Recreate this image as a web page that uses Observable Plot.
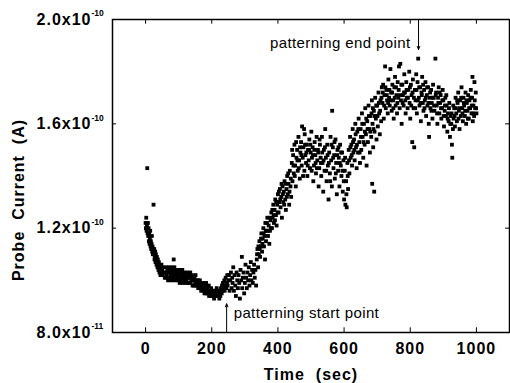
<!DOCTYPE html>
<html><head><meta charset="utf-8">
<script src="https://cdn.jsdelivr.net/npm/d3@7"></script>
<script src="https://cdn.jsdelivr.net/npm/@observablehq/plot@0.6"></script>
<style>
body{margin:0;background:#fff}
svg g[font-weight="bold"] text{letter-spacing:1px}
svg g[font-size="15"] text{letter-spacing:0.4px}
</style>
</head><body><div id="chart"></div>
<script>
// Probe current readings, [time (sec), current in units of 1e-10 A]
const decay = [[0,1.22],[1,1.20],[2,1.24],[3,1.19],[4,1.21],[5,1.43],[6,1.18],[7,1.22],[8,1.17],[9,1.20],[10,1.15],[11,1.18],[12,1.14],[13,1.16],[14,1.19],[15,1.13],[16,1.15],[17,1.12],[18,1.14],[19,1.17],[20,1.11],[21,1.13],[22,1.10],[23,1.12],[24,1.29],[25,1.10],[26,1.12],[27,1.08],[28,1.09],[29,1.11],[30,1.07],[31,1.10],[32,1.08],[33,1.06],[34,1.09],[35,1.07],[36,1.05],[37,1.08],[38,1.06],[39,1.04],[40,1.07],[41,1.05],[42,1.03],[43,1.06],[44,1.04],[45,1.02],[46,1.05],[47,1.03],[48,1.06],[50,1.04],[52,1.02],[54,1.05],[56,1.03],[58,1.01]];
const plateau = [[60,1.03],[62,1.01],[63,1.05],[64,1.02],[66,1.04],[68,1.00],[70,1.03],[71,1.05],[72,1.01],[74,1.04],[76,1.02],[78,1.00],[79,1.05],[80,1.03],[82,1.01],[84,1.04],[85,1.08],[86,1.02],[87,1.05],[88,1.00],[90,1.03],[92,1.01],[94,1.04],[95,1.02],[96,1.00],[98,1.03],[100,1.01],[102,1.04],[103,0.99],[104,1.02],[106,1.00],[108,1.03],[110,1.01],[111,1.04],[112,0.99],[114,1.02],[116,1.00],[118,1.03],[119,1.01],[120,0.99],[122,1.02],[124,1.00],[126,1.03],[127,0.99],[128,1.01],[130,1.02],[132,0.99],[134,1.01],[135,1.03],[136,0.99],[138,1.00],[140,1.02],[142,0.98],[143,1.01],[144,1.00],[146,0.98],[148,1.01],[150,0.99],[151,1.02],[152,0.98],[154,1.00],[156,0.98],[158,1.00],[159,0.97],[160,0.99],[162,0.98],[164,1.00],[166,0.97],[167,0.99],[168,0.96],[170,0.98],[172,0.97],[174,0.99],[175,0.96],[176,0.97],[178,0.95],[180,0.98],[182,0.96],[183,0.99],[184,0.95],[186,0.97],[188,0.95],[190,0.96],[191,0.98],[192,0.94],[194,0.96],[196,0.95],[198,0.97],[199,0.94],[200,0.95],[202,0.96],[204,0.94],[206,0.96],[207,0.93],[208,0.95],[210,0.94],[212,0.96],[214,0.95],[215,0.97],[216,0.94],[218,0.96],[220,0.94],[222,0.95],[223,0.93],[224,0.96],[226,0.94],[228,0.97],[230,0.95],[231,0.98],[232,0.96],[234,0.99],[236,0.97],[238,1.00],[239,0.96],[240,0.98],[242,1.01],[244,0.97],[246,0.99],[247,1.02],[248,0.98],[250,1.00]];
const noisy = [[252,1.02],[254,0.96],[256,1.00],[258,1.03],[260,0.97],[262,1.01],[263,0.99],[265,1.05],[267,0.96],[269,1.02],[271,0.98],[273,0.94],[275,1.03],[277,1.00],[279,0.97],[281,1.02],[283,0.99],[285,0.93],[287,1.04],[289,1.00],[291,1.09],[292,0.97],[294,1.01],[296,1.03],[298,0.95],[300,0.99],[302,1.06],[304,1.01],[306,0.97],[308,1.03],[310,1.00],[312,1.05],[314,0.98],[316,1.02],[318,1.07],[320,1.00],[322,1.04],[324,0.99],[326,1.03],[328,1.06],[330,1.01],[332,1.04],[334,0.98]];
const rise = [[336,1.08],[337,1.10],[338,1.12],[340,1.05],[341,1.13],[342,1.10],[344,1.15],[345,1.12],[346,1.09],[348,1.13],[349,1.16],[350,1.18],[352,1.11],[353,1.14],[354,1.16],[356,1.20],[357,1.18],[358,1.13],[360,1.17],[361,1.08],[362,1.22],[363,1.19],[364,1.15],[366,1.19],[367,1.22],[368,1.24],[370,1.17],[371,1.19],[372,1.21],[374,1.14],[375,1.24],[376,1.19],[378,1.23],[379,1.20],[380,1.26],[382,1.20],[383,1.27],[384,1.24],[386,1.29],[387,1.25],[388,1.22],[390,1.27],[391,1.23],[392,1.31],[394,1.25],[395,1.30],[396,1.21],[398,1.29],[399,1.26],[400,1.33],[402,1.26],[403,1.34],[404,1.30],[406,1.35],[407,1.31],[408,1.28],[410,1.32],[411,1.37],[412,1.24],[414,1.36],[415,1.33],[416,1.30],[418,1.34],[419,1.29],[420,1.38],[422,1.31],[423,1.37],[424,1.27],[426,1.35],[427,1.32],[428,1.40],[430,1.33],[431,1.41],[432,1.37],[434,1.29],[435,1.34],[436,1.42],[438,1.36],[439,1.39],[440,1.32]];
const middle = [[442,1.45],[443,1.50],[444,1.38],[446,1.48],[447,1.44],[448,1.41],[450,1.52],[451,1.40],[452,1.44],[454,1.36],[455,1.53],[456,1.47],[458,1.50],[459,1.46],[460,1.42],[462,1.55],[463,1.43],[464,1.46],[466,1.39],[467,1.51],[468,1.49],[470,1.53],[471,1.48],[472,1.44],[473,1.59],[475,1.47],[476,1.40],[477,1.51],[479,1.58],[480,1.42],[481,1.56],[482,1.52],[483,1.48],[485,1.45],[486,1.49],[487,1.52],[489,1.40],[490,1.44],[491,1.50],[493,1.46],[494,1.50],[495,1.54],[497,1.43],[498,1.52],[499,1.49],[501,1.57],[502,1.42],[503,1.47],[505,1.51],[506,1.48],[507,1.38],[509,1.44],[510,1.50],[511,1.53],[513,1.48],[514,1.45],[515,1.41],[517,1.55],[518,1.43],[519,1.46],[521,1.50],[522,1.49],[523,1.36],[525,1.43],[526,1.54],[527,1.52],[529,1.47],[530,1.45],[531,1.40],[533,1.55],[534,1.49],[535,1.45],[537,1.34],[538,1.46],[539,1.50],[541,1.42],[542,1.51],[543,1.58],[545,1.47],[546,1.42],[547,1.38],[549,1.52],[550,1.48],[551,1.44],[553,1.31],[554,1.45],[555,1.49],[557,1.41],[558,1.38],[559,1.55],[561,1.46],[562,1.52],[563,1.36],[564,1.65],[566,1.51],[567,1.47],[568,1.43],[570,1.48],[571,1.53],[572,1.39],[574,1.54],[575,1.41],[576,1.45],[578,1.33],[579,1.48],[580,1.50],[582,1.42],[583,1.51],[584,1.47],[586,1.36],[587,1.45],[588,1.52],[590,1.44],[591,1.49],[592,1.40],[594,1.49],[595,1.42],[596,1.34],[598,1.46],[599,1.38],[600,1.31],[602,1.42],[603,1.47],[604,1.29],[606,1.38],[607,1.33],[608,1.28],[610,1.45],[611,1.40],[612,1.35],[614,1.50],[615,1.46],[616,1.41],[618,1.55],[619,1.51],[620,1.47],[622,1.52],[623,1.48],[624,1.44],[626,1.58],[627,1.53],[628,1.49]];
const upper = [[630,1.54],[631,1.50],[632,1.46],[634,1.60],[635,1.56],[636,1.51],[638,1.43],[639,1.52],[640,1.57],[642,1.49],[643,1.58],[644,1.62],[646,1.53],[647,1.49],[648,1.45],[650,1.58],[651,1.55],[652,1.50],[654,1.64],[655,1.60],[656,1.55],[658,1.47],[659,1.53],[660,1.60],[662,1.52],[663,1.57],[664,1.66],[666,1.56],[667,1.62],[668,1.44],[670,1.61],[671,1.58],[672,1.53],[674,1.67],[675,1.63],[676,1.58],[678,1.49],[679,1.57],[680,1.63],[682,1.55],[683,1.64],[684,1.69],[685,1.37],[686,1.60],[687,1.66],[688,1.51],[689,1.58],[690,1.65],[691,1.34],[692,1.57],[693,1.63],[694,1.70],[696,1.62],[697,1.67],[698,1.54],[700,1.67],[701,1.63],[702,1.59],[704,1.72],[705,1.68],[706,1.64],[708,1.56],[709,1.65],[710,1.69],[712,1.61],[713,1.70],[714,1.74]];
const plateauHigh = [[716,1.68],[717,1.72],[718,1.75],[720,1.62],[721,1.67],[722,1.71],[724,1.82],[725,1.74],[726,1.66],[728,1.73],[729,1.71],[730,1.69],[732,1.64],[733,1.68],[734,1.77],[736,1.70],[737,1.73],[738,1.67],[740,1.81],[741,1.69],[742,1.72],[744,1.65],[745,1.72],[746,1.75],[748,1.69],[749,1.66],[750,1.62],[752,1.74],[753,1.70],[754,1.78],[756,1.67],[757,1.74],[758,1.71],[760,1.64],[761,1.68],[762,1.76],[764,1.70],[765,1.73],[766,1.82],[768,1.66],[769,1.71],[770,1.83],[772,1.69],[773,1.75],[774,1.60],[776,1.75],[777,1.68],[778,1.71],[780,1.67],[781,1.72],[782,1.79],[784,1.72],[785,1.69],[786,1.64],[788,1.76],[789,1.73],[790,1.70],[792,1.66],[793,1.70],[794,1.73],[797,1.80],[798,1.68],[799,1.74],[800,1.62],[802,1.75],[803,1.67],[804,1.71],[806,1.53],[807,1.72],[808,1.77],[810,1.66],[811,1.70],[812,1.51],[814,1.73],[815,1.66],[816,1.69],[818,1.79],[819,1.73],[820,1.64],[822,1.76],[823,1.69],[824,1.85],[826,1.70],[827,1.74],[828,1.67],[830,1.74],[831,1.68],[832,1.61],[834,1.72],[835,1.71],[836,1.78],[838,1.68],[839,1.75],[840,1.65],[842,1.73],[843,1.66],[844,1.69],[846,1.76],[847,1.70],[848,1.63],[850,1.71],[851,1.74],[852,1.67],[854,1.74],[855,1.68],[856,1.60],[857,1.55],[859,1.70],[860,1.72],[861,1.66],[863,1.73],[864,1.65],[865,1.68],[867,1.62],[868,1.70],[869,1.75],[871,1.70],[872,1.67],[873,1.65],[876,1.85],[877,1.71],[878,1.72],[880,1.67],[881,1.64],[882,1.60],[884,1.70],[885,1.68],[886,1.74],[888,1.64],[889,1.72],[890,1.68],[892,1.71],[893,1.66],[894,1.62],[896,1.66],[897,1.69],[898,1.73],[900,1.69],[901,1.63],[902,1.59],[904,1.65],[905,1.67],[906,1.70],[908,1.63],[909,1.71],[910,1.67],[912,1.57],[913,1.62],[914,1.64],[916,1.61],[917,1.66],[918,1.68],[920,1.55],[921,1.60],[922,1.63],[924,1.60],[925,1.64],[926,1.52],[927,1.47],[929,1.58],[930,1.67],[931,1.62],[933,1.66],[934,1.63],[935,1.59],[937,1.70],[938,1.66],[939,1.64],[941,1.61],[942,1.69],[943,1.68],[945,1.72],[946,1.62],[947,1.65],[949,1.58],[950,1.66],[951,1.69],[953,1.63],[954,1.70],[955,1.74],[957,1.66],[958,1.64],[959,1.61],[961,1.70],[962,1.68],[963,1.67],[965,1.63],[966,1.65],[967,1.72],[969,1.60],[970,1.69],[971,1.68],[973,1.65],[974,1.62],[975,1.71],[977,1.62],[978,1.66],[979,1.69],[981,1.66],[982,1.70],[983,1.73],[985,1.64],[986,1.67],[987,1.70],[988,1.78],[989,1.61],[990,1.64],[991,1.67],[993,1.63],[994,1.76],[995,1.69],[996,1.66],[998,1.72],[999,1.66],[1000,1.64]];

const xTicks = [0, 200, 400, 600, 800, 1000];
const yTicks = [0.8, 1.2, 1.6, 2.0];
const yMantissa = ["8.0x10", "1.2x10", "1.6x10", "2.0x10"];
const yExponent = ["-11", "-10", "-10", "-10"];
const xTitle = "Time  (sec)";
const yTitle = "Probe  Current  (A)";
const notes = [
  {label: "patterning start point", time: 245, from: 0.8, to: 0.91, textY: 0.873, side: "start"},
  {label: "patterning end point", time: 825, from: 2.0, to: 1.885, textY: 1.908, side: "end"}
];

const readings = [...decay, ...plateau, ...noisy, ...rise, ...middle, ...upper, ...plateauHigh]
  .map(([t, v]) => ({t, v}));

const xMin = -100, xMax = 1100, yMin = 0.8, yMax = 2.0;
const font = "'Liberation Sans', Arial, Helvetica, sans-serif";
const chart = Plot.plot({
  width: 510, height: 383,
  marginLeft: 112, marginRight: 1, marginTop: 19, marginBottom: 51,
  style: {fontFamily: font, background: "white", color: "black", overflow: "visible"},
  x: {domain: [xMin, xMax], axis: null},
  y: {domain: [yMin, yMax], axis: null},
  marks: [
    Plot.dot(readings, {x: "t", y: "v", symbol: "square", r: 2.15, fill: "black", stroke: null}),
    Plot.frame({stroke: "black", strokeWidth: 1.5}),
    Plot.ruleX(xTicks, {x: d => d, y1: yMin, y2: yMin + 0.018, stroke: "black", strokeWidth: 1}),
    Plot.ruleX(xTicks, {x: d => d, y1: yMax, y2: yMax - 0.018, stroke: "black", strokeWidth: 1}),
    Plot.ruleY(yTicks.slice(1, 3), {y: d => d, x1: xMin, x2: xMin + 12, stroke: "black", strokeWidth: 1}),
    Plot.ruleY(yTicks.slice(1, 3), {y: d => d, x1: xMax, x2: xMax - 12, stroke: "black", strokeWidth: 1}),
    Plot.text(xTicks, {x: d => d, y: yMin, dy: 16, text: d => String(d), fontSize: 16, fontWeight: "bold"}),
    Plot.text(yTicks, {x: xMin, y: d => d, dx: -21, textAnchor: "end", text: (d, i) => yMantissa[i], fontSize: 16, fontWeight: "bold"}),
    Plot.text(yTicks, {x: xMin, y: d => d, dx: -21, dy: -6, textAnchor: "start", text: (d, i) => yExponent[i], fontSize: 8.5, fontWeight: 700}),
    Plot.text([xTitle], {x: (xMin + xMax) / 2, y: yMin, dy: 42, text: d => d, fontSize: 16, fontWeight: "bold"}),
    Plot.text([yTitle], {x: xMin, y: (yMin + yMax) / 2, dx: -94, dy: 24, rotate: -90, text: d => d, fontSize: 16, fontWeight: "bold"}),
    Plot.arrow(notes, {x1: "time", x2: "time", y1: "from", y2: "to", stroke: "black", strokeWidth: 1, headLength: 5, headAngle: 45}),
    Plot.text(notes.filter(d => d.side === "start"), {x: "time", y: "textY", text: "label", dx: 7, textAnchor: "start", fontSize: 15}),
    Plot.text(notes.filter(d => d.side === "end"), {x: "time", y: "textY", text: "label", dx: -8, textAnchor: "end", fontSize: 15})
  ]
});
document.getElementById("chart").appendChild(chart);
</script>
</body></html>
